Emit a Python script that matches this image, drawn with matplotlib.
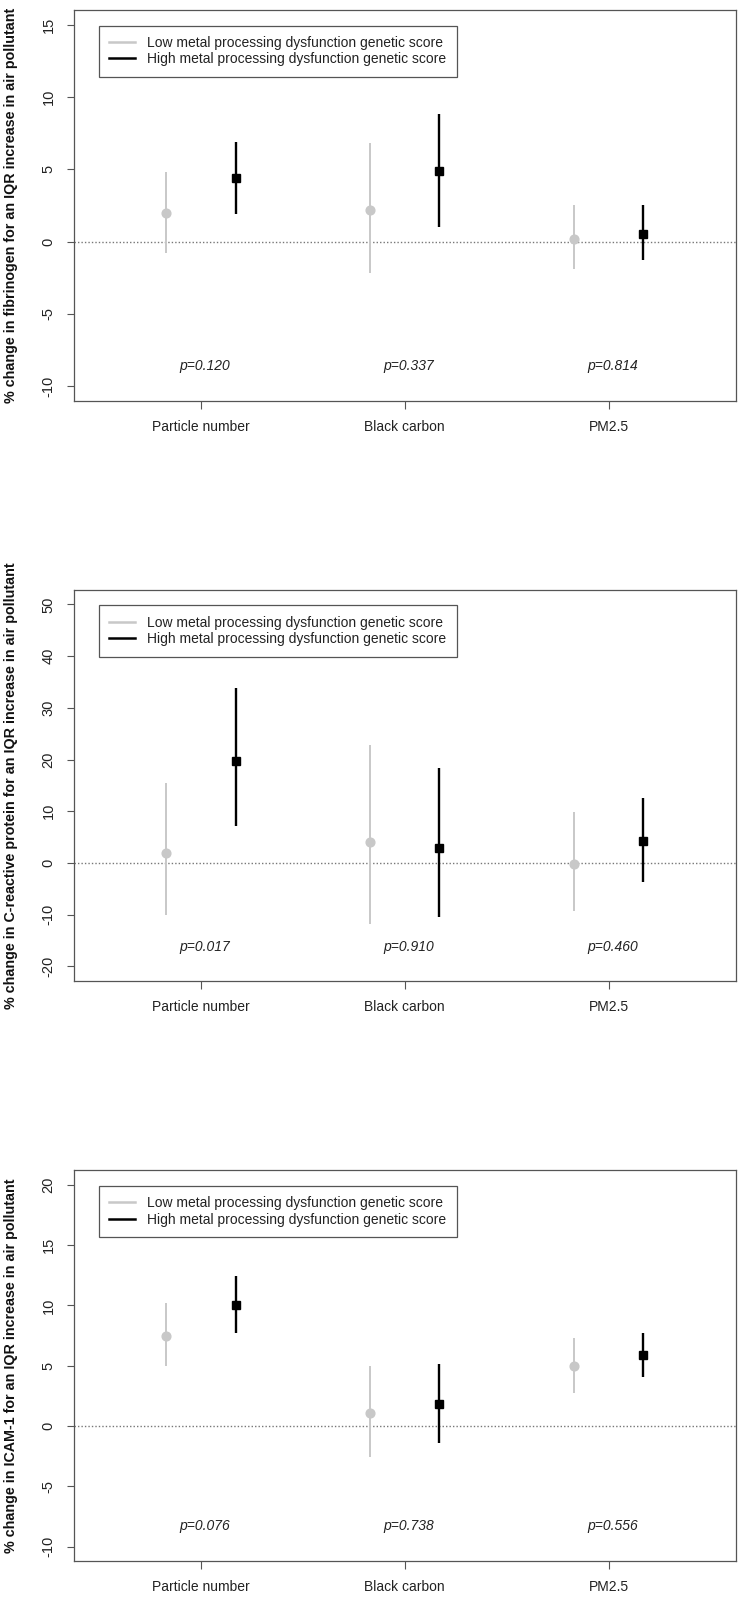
import matplotlib
matplotlib.use('Agg')
import matplotlib.pyplot as plt
from matplotlib.lines import Line2D

plt.rcParams['font.family'] = ['Liberation Sans', 'DejaVu Sans']
plt.rcParams['font.size'] = 10

categories = ['Particle number', 'Black carbon', 'PM2.5']
legend_labels = ['Low metal processing dysfunction genetic score',
                 'High metal processing dysfunction genetic score']

# fibrinogen
fib_low_est = [2.0, 2.2, 0.2]
fib_low_lo = [-0.8, -2.2, -1.9]
fib_low_hi = [4.8, 6.8, 2.5]
fib_high_est = [4.4, 4.9, 0.5]
fib_high_lo = [1.9, 1.0, -1.3]
fib_high_hi = [6.9, 8.8, 2.5]
fib_p = ['p=0.120', 'p=0.337', 'p=0.814']

# C-reactive protein
crp_low_est = [1.9, 4.0, -0.3]
crp_low_lo = [-10.1, -11.8, -9.4]
crp_low_hi = [15.5, 22.9, 9.8]
crp_high_est = [19.7, 2.9, 4.2]
crp_high_lo = [7.1, -10.5, -3.7]
crp_high_hi = [33.8, 18.4, 12.6]
crp_p = ['p=0.017', 'p=0.910', 'p=0.460']

# ICAM-1
icam_low_est = [7.5, 1.1, 5.0]
icam_low_lo = [5.0, -2.6, 2.7]
icam_low_hi = [10.2, 5.0, 7.3]
icam_high_est = [10.0, 1.8, 5.9]
icam_high_lo = [7.7, -1.4, 4.1]
icam_high_hi = [12.4, 5.1, 7.7]
icam_p = ['p=0.076', 'p=0.738', 'p=0.556']

LOW_COL = '#c8c8c8'
HIGH_COL = 'black'
FRAME_COL = '#555555'
OFFSET = 0.17


def draw_panel(ax, low, high, pvals, p_y, ylabel, yticks, ylim):
    """Draws one panel: low/high score estimates with CIs, p-values and legend."""
    x = [1, 2, 3]
    x_low = [i - OFFSET for i in x]
    x_high = [i + OFFSET for i in x]

    ax.axhline(0, color='#777777', lw=1, ls=(0, (1, 1.5)), zorder=1)

    ax.vlines(x_low, low[1], low[2], color=LOW_COL, lw=1.4, zorder=2)
    ax.plot(x_low, low[0], 'o', color=LOW_COL, ms=6.3, zorder=3)
    ax.vlines(x_high, high[1], high[2], color=HIGH_COL, lw=1.7, zorder=2)
    ax.plot(x_high, high[0], 's', color=HIGH_COL, ms=5.5, zorder=3)

    for i, p in zip(x, pvals):
        ax.text(i + 0.02, p_y, p, style='italic', ha='center', va='center',
                color='#222222', fontsize=10)

    ax.set_xlim(0.375, 3.625)
    ax.set_ylim(*ylim)
    ax.set_xticks(x)
    ax.set_xticklabels(categories)
    ax.set_yticks(yticks)
    ax.set_yticklabels([str(t) for t in yticks], rotation=90, va='center')
    ax.tick_params(axis='both', length=5.4, width=0.8, color=FRAME_COL,
                   labelcolor='#222222', labelsize=10, pad=8.5)
    ax.tick_params(axis='y', labelsize=10.5, pad=7.5)

    for s in ax.spines.values():
        s.set_color(FRAME_COL)
        s.set_linewidth(0.9)

    ax.set_ylabel(ylabel, fontweight='bold', fontsize=10.3, color='#111111')
    ax.yaxis.label.set_va('center')
    ax.yaxis.set_label_coords(-0.094, 0.5)

    handles = [Line2D([], [], color=LOW_COL, lw=1.8),
               Line2D([], [], color=HIGH_COL, lw=1.8)]
    leg = ax.legend(handles, legend_labels, loc='upper left',
                    bbox_to_anchor=(0.0379, 0.9605), borderaxespad=0,
                    fancybox=False, framealpha=1, edgecolor=FRAME_COL,
                    handlelength=1.9, handletextpad=0.85, labelspacing=0.17,
                    borderpad=0.75, fontsize=10)
    leg.get_frame().set_linewidth(0.9)
    for t in leg.get_texts():
        t.set_color('#222222')


def main():
    fig = plt.figure(figsize=(7.42, 15.99), dpi=100)
    left, width, height = 0.0991, 0.8928, 0.2443

    ax1 = fig.add_axes([left, 0.7494, width, height])
    draw_panel(ax1, (fib_low_est, fib_low_lo, fib_low_hi),
               (fib_high_est, fib_high_lo, fib_high_hi), fib_p, -8.6,
               '% change in fibrinogen for an IQR increase in air pollutant',
               [-10, -5, 0, 5, 10, 15], (-11, 16))

    ax2 = fig.add_axes([left, 0.3867, width, height])
    draw_panel(ax2, (crp_low_est, crp_low_lo, crp_low_hi),
               (crp_high_est, crp_high_lo, crp_high_hi), crp_p, -16.2,
               '% change in C-reactive protein for an IQR increase in air pollutant',
               [-20, -10, 0, 10, 20, 30, 40, 50], (-22.8, 52.8))

    ax3 = fig.add_axes([left, 0.02376, width, height])
    draw_panel(ax3, (icam_low_est, icam_low_lo, icam_low_hi),
               (icam_high_est, icam_high_lo, icam_high_hi), icam_p, -8.3,
               '% change in ICAM-1 for an IQR increase in air pollutant',
               [-10, -5, 0, 5, 10, 15, 20], (-11.2, 21.2))

    fig.savefig('out.png', dpi=100)


if __name__ == "__main__":
    main()
